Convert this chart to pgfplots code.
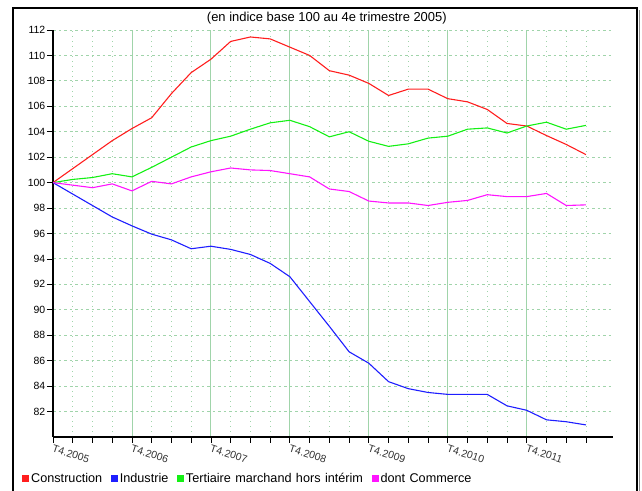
\documentclass[border=0pt]{standalone}
\usepackage{pgfplots}
\pgfplotsset{compat=1.18}
\usepackage{fontspec}
\setmainfont{Liberation Sans}
\newfontfamily\legfont[WordSpace=1.25]{Liberation Sans}
\definecolor{gridgreen}{RGB}{160,212,170}
\definecolor{cred}{RGB}{255,30,30}
\definecolor{cblue}{RGB}{30,30,255}
\definecolor{cgreen}{RGB}{20,240,20}
\definecolor{cmag}{RGB}{255,20,255}
\begin{document}
\begin{tikzpicture}[x=1bp,y=1bp]
\useasboundingbox (0,0) rectangle (642,491);
\begin{axis}[
  at={(53bp,54bp)}, anchor=south west,
  scale only axis, width=560bp, height=407bp,
  xmin=0, xmax=28.37, ymin=80, ymax=112,
  axis x line=bottom, axis y line=left,
  axis line style={-, line width=1.1bp, black},
  tick align=outside,
  major tick length=6bp, minor tick length=6bp,
  tick style={black, line width=0.8bp},
  xtick={0,4,8,12,16,20,24},
  xticklabels={T4.2005,T4.2006,T4.2007,T4.2008,T4.2009,T4.2010,T4.2011},
  minor xtick={1,2,3,5,6,7,9,10,11,13,14,15,17,18,19,21,22,23,25,26,27},
  ytick={82,84,...,112},
  /pgf/number format/assume math mode=true,
  yticklabel style={font=\fontsize{10.5}{12}\selectfont, inner sep=1.5bp},
  xticklabel style={font=\fontsize{10.5}{12}\selectfont, rotate=-18, anchor=north west, inner sep=1bp, text=black!80},
  xmajorgrids, xminorgrids, ymajorgrids,
  major x grid style={solid, gridgreen, line width=0.9bp},
  minor x grid style={gridgreen, line width=0.9bp, dash pattern=on 1bp off 4bp},
  major y grid style={gridgreen, line width=0.9bp, dash pattern=on 2.5bp off 3bp},
  every axis title shift=0pt,
  title={(en indice base 100 au 4e trimestre 2005)},
  title style={at={(0.489,1.0295)}, anchor=center, font=\fontsize{13}{15}\selectfont, inner sep=0pt},
  legend columns=4,
  legend style={at={(-0.055,-0.103)}, anchor=west, draw=none, fill=none,
    font=\legfont\fontsize{12.7}{14}\selectfont, inner sep=0pt,
    nodes={inner sep=1.8bp},
    /tikz/every even column/.append style={column sep=7bp}},
  legend image code/.code={\fill[#1,draw=none] (0bp,-3bp) rectangle (7bp,3.5bp);},
  every axis plot/.append style={line width=1.1bp},
]
\addplot[cred] coordinates {
(0,100) (1,101.1) (2,102.2) (3,103.3) (4,104.25) (5,105.1) (6,107.0) (7,108.65)
(8,109.7) (9,111.1) (10,111.45) (11,111.3) (12,110.65) (13,110.0) (14,108.8)
(15,108.45) (16,107.8) (17,106.85) (18,107.35) (19,107.35) (20,106.6) (21,106.35)
(22,105.75) (23,104.65) (24,104.45) (25,103.7) (26,103.0) (27,102.2)};
\addlegendentry{Construction}
\addplot[cblue] coordinates {
(0,100) (1,99.1) (2,98.2) (3,97.3) (4,96.6) (5,95.95) (6,95.5) (7,94.8)
(8,95.0) (9,94.75) (10,94.35) (11,93.65) (12,92.6) (13,90.65) (14,88.7)
(15,86.7) (16,85.8) (17,84.35) (18,83.8) (19,83.5) (20,83.35) (21,83.35)
(22,83.35) (23,82.45) (24,82.1) (25,81.35) (26,81.2) (27,80.95)};
\addlegendentry{Industrie}
\addplot[cgreen] coordinates {
(0,100) (1,100.25) (2,100.4) (3,100.7) (4,100.45) (5,101.2) (6,102.0) (7,102.8)
(8,103.3) (9,103.65) (10,104.2) (11,104.7) (12,104.9) (13,104.4) (14,103.6)
(15,104.0) (16,103.25) (17,102.85) (18,103.05) (19,103.5) (20,103.65) (21,104.2)
(22,104.3) (23,103.9) (24,104.45) (25,104.75) (26,104.2) (27,104.5)};
\addlegendentry{Tertiaire marchand hors intérim}
\addplot[cmag] coordinates {
(0,100) (1,99.8) (2,99.6) (3,99.9) (4,99.35) (5,100.1) (6,99.9) (7,100.45)
(8,100.85) (9,101.15) (10,101.0) (11,100.95) (12,100.7) (13,100.45) (14,99.5)
(15,99.3) (16,98.55) (17,98.4) (18,98.4) (19,98.2) (20,98.45) (21,98.6)
(22,99.05) (23,98.9) (24,98.9) (25,99.15) (26,98.2) (27,98.25)};
\addlegendentry{dont Commerce}
\end{axis}
\draw[line width=1.2bp] (13,0) -- (13,483) -- (637,483) -- (637,0);
\draw[line width=1bp, black!45] (639,0) -- (639,481);
\end{tikzpicture}
\end{document}
